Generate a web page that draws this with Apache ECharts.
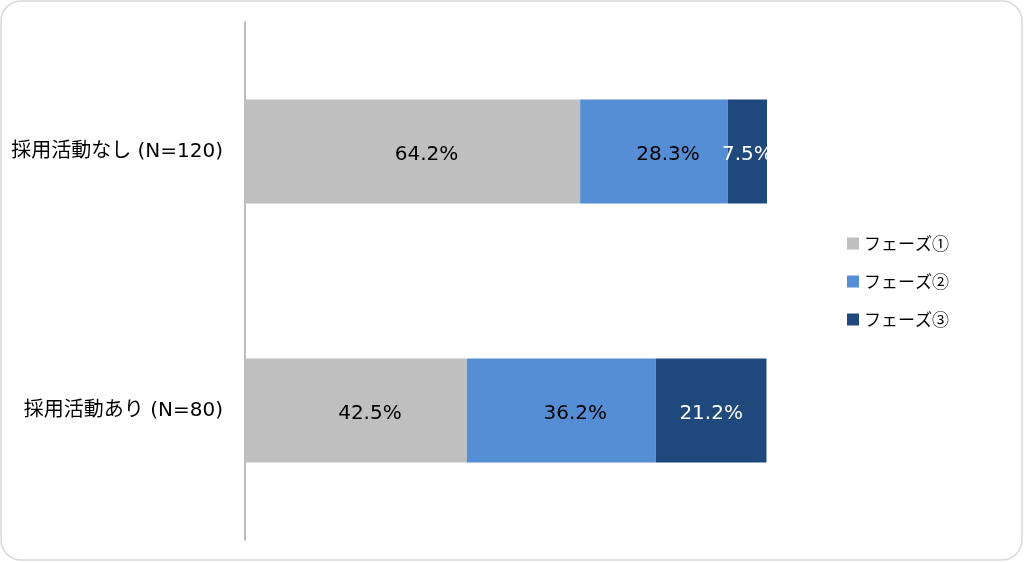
<!DOCTYPE html>
<html><head><meta charset="utf-8">
<script src="https://cdn.jsdelivr.net/npm/echarts@6/dist/echarts.min.js"></script>
<style>html,body{margin:0;padding:0;background:#fff}#c{width:1024px;height:563px}</style>
</head><body><div id="c"></div>
<script>
const categories = ['採用活動なし (N=120)', '採用活動あり (N=80)'];
const seriesNames = ['フェーズ①', 'フェーズ②', 'フェーズ③'];
const phase1 = [64.2, 42.5];
const phase2 = [28.3, 36.2];
const phase3 = [7.5, 21.2];
const colors = ['#bfbfbf', '#558ed5', '#1f497d'];
const labelColors = ['#000', '#000', '#fff'];
const labelShift = [14, 14, 0];
const values = [phase1, phase2, phase3];
const FONT = '"DejaVu Sans", "Noto Sans CJK JP", sans-serif';
const LFONT = '"Noto Sans CJK JP", sans-serif';

const chart = echarts.init(document.getElementById('c'));
chart.setOption({
  animation: false,
  graphic: [{
    type: 'rect', shape: {x: 1, y: 1, width: 1021, height: 559, r: 20},
    style: {fill: 'none', stroke: '#d9d9d9', lineWidth: 1.5}, silent: true, z: -1
  }],
  grid: {left: 245, right: 257, top: 22, bottom: 23, containLabel: false},
  legend: {
    orient: 'vertical', left: 842, top: 230,
    itemWidth: 12, itemHeight: 12, itemGap: 21,
    icon: 'rect',
    textStyle: {fontFamily: LFONT, fontSize: 17, color: '#000'},
    data: seriesNames
  },
  xAxis: {type: 'value', min: 0, max: 100, show: false},
  yAxis: {
    type: 'category', data: categories, inverse: true,
    axisLine: {show: true, lineStyle: {color: '#a6a6a6', width: 1.5}},
    axisTick: {show: false},
    axisLabel: {fontFamily: FONT, fontSize: 20, color: '#000', margin: 22}
  },
  series: values.map((v, i) => ({
    name: seriesNames[i], type: 'bar', stack: 'total', data: v,
    barWidth: 104,
    itemStyle: {color: colors[i]},
    label: {show: true, position: 'inside', formatter: p => p.value.toFixed(1) + '%',
      fontFamily: FONT, fontSize: 20, color: labelColors[i], offset: [labelShift[i], 3]}
  }))
});
</script></body></html>
